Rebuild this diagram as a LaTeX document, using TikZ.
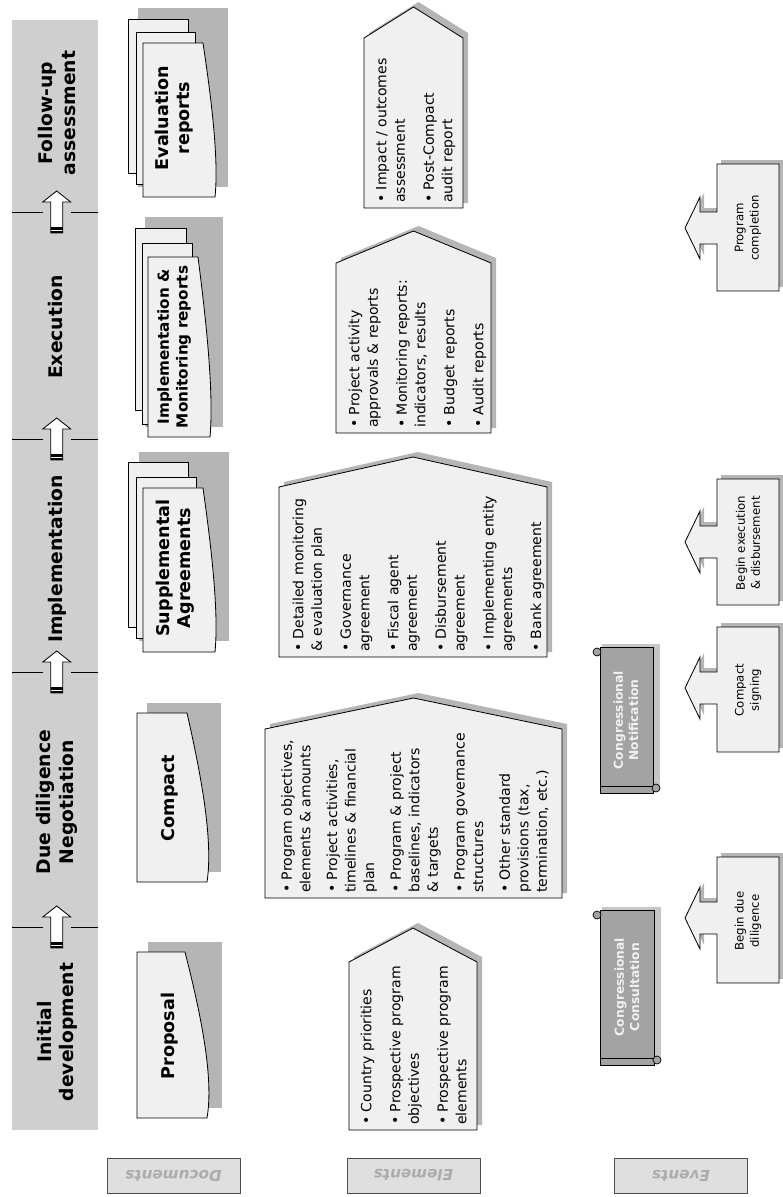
\documentclass[tikz,border=0pt]{standalone}
\usepackage{fontspec}
\setmainfont{DejaVu Sans}
\usetikzlibrary{calc}
\newcommand\docsheet[5]{(#1,#2) -- (#1+#3,#2) .. controls (#1+#3+#5*0.67,#2+#4*0.35) and (#1+#3+#5*1.33,#2+#4*0.75) .. (#1+#3+#5,#2+#4) -- (#1,#2+#4) -- cycle}
\newcommand\homeplate[5]{(#1,#5) -- (#1,#4) -- ({(#1+#2)/2},#3) -- (#2,#4) -- (#2,#5) -- cycle}
\newcommand\eventarrow[3]{(717,#1) -- (779,#1) -- (779,#2) -- (717,#2) -- (717,#3+16) -- (700,#3+16) -- (700,#3+31) -- (685,#3) -- (700,#3-31) -- (700,#3-16) -- (717,#3-16) -- cycle}
\newcommand\stagestep[1]{%
  \draw[line width=0.6pt] (12,#1) -- (43,#1) (71,#1) -- (98,#1);
  \draw[line width=0.7pt, fill=white] (56.7,#1-21) -- (70.7,#1-10) -- (62.7,#1-10) -- (62.7,#1+21) -- (50.7,#1+21) -- (50.7,#1-10) -- (42.7,#1-10) -- cycle;
  \fill (50.7,#1+15) rectangle (62.7,#1+17.5);
  \fill (50.7,#1+19) rectangle (62.7,#1+21);}
\newcommand\itm[1]{\par\hangindent=0.9em\hangafter=1\noindent\makebox[0.9em][l]{\textbullet}#1\par}
\tikzset{
  band/.style={fill=gray!38},
  sheet/.style={draw, fill=gray!12, line width=0.7pt},
  backing/.style={fill=gray!58},
  phase/.style={rotate=90, align=center, font=\bfseries\fontsize{16}{19}\selectfont},
  doclabel/.style={rotate=90, align=center, font=\bfseries\fontsize{15}{18}\selectfont},
  items/.style={rotate=90, anchor=north west, inner sep=0pt, text width=6cm, align=left,
    font=\fontsize{12}{15.8}\selectfont, execute at begin node={\setlength\parskip{9pt}}},
  event/.style={rotate=90, align=center, font=\fontsize{10}{13}\selectfont},
  scroll/.style={draw, fill=gray!72, line width=0.6pt},
  notice/.style={rotate=90, align=center, text=gray!12, font=\bfseries\fontsize{10.5}{13}\selectfont},
  rowtag/.style={draw=gray!60!black, fill=gray!25, minimum width=3.99cm, minimum height=1.05cm,
    rotate=180, text=gray!65, font=\bfseries\itshape\fontsize{13}{15}\selectfont}
}
\begin{document}
\begin{tikzpicture}[x=0.03cm, y=-0.03cm]
    \useasboundingbox (0,0) rectangle (783,1197);
    \fill[band] (12,20) rectangle (98,1130);
    \stagestep{212}
    \stagestep{439}
    \stagestep{672}
    \stagestep{927}
    \node[phase] (initial) at (57,1032) {Initial\\development};
    \node[phase] (duedil) at (57,802) {Due diligence\\Negotiation};
    \node[phase] (implement) at (57,559) {Implementation};
    \node[phase] (execute) at (56,327) {Execution};
    \node[phase] (followup) at (57,113) {Follow-up\\assessment};

    \fill[backing] (148,942) rectangle (222,1108);
    \draw[sheet] \docsheet{137}{952}{48}{166}{22};
    \node[doclabel] (proposal) at (170,1036) {Proposal};
    \fill[backing] (147,703) rectangle (221,872);
    \draw[sheet] \docsheet{137}{713}{50}{169}{20};
    \node[doclabel] (compact) at (170,798) {Compact};
    \fill[backing] (139,452) rectangle (229,641);
    \draw[sheet] (128,462) rectangle (188,627);
    \draw[sheet] (136,477) rectangle (196,638);
    \draw[sheet] \docsheet{143}{488}{60}{164}{12};
    \node[doclabel] (supplemental) at (175,568) {Supplemental\\Agreements};
    \fill[backing] (145,217) rectangle (223,427);
    \draw[sheet] (135,228) rectangle (186,410);
    \draw[sheet] (142,243) rectangle (192,424);
    \draw[sheet] \docsheet{148}{257}{50}{180}{12};
    \node[doclabel, font=\bfseries\fontsize{13}{16}\selectfont] (monitoring) at (174,347) {Implementation \&\\Monitoring reports};
    \fill[backing] (138,8) rectangle (228,187);
    \draw[sheet] (128,19) rectangle (188,173);
    \draw[sheet] (136,32) rectangle (195,184);
    \draw[sheet] \docsheet{143}{43}{60}{154}{12};
    \node[doclabel] (evaluation) at (174,118) {Evaluation\\reports};

    \fill[backing, shift={(5,-5)}] \homeplate{349}{477}{928}{962}{1130};
    \draw[sheet] \homeplate{349}{477}{928}{962}{1130};
    \node[items] (initialitems) at (342,1125) {\itm{Country priorities}\itm{Prospective program\\objectives}\itm{Prospective program\\elements}};
    \fill[backing, shift={(5,-5)}] \homeplate{265}{562}{698}{729}{898};
    \draw[sheet] \homeplate{265}{562}{698}{729}{898};
    \node[items, execute at begin node={\setlength\parskip{7pt}}] (duedilitems) at (265,893) {\itm{Program objectives,\\elements \& amounts}\itm{Project activities,\\timelines \& financial\\plan}\itm{Program \& project\\baselines, indicators\\\& targets}\itm{Program governance\\structures}\itm{Other standard\\provisions (tax,\\termination, etc.)}};
    \fill[backing, shift={(5,-5)}] \homeplate{279}{547}{457}{487}{657};
    \draw[sheet] \homeplate{279}{547}{457}{487}{657};
    \node[items] (implitems) at (274,652) {\itm{Detailed monitoring\\\& evaluation plan}\itm{Governance\\agreement}\itm{Fiscal agent\\agreement}\itm{Disbursement\\agreement}\itm{Implementing entity\\agreements}\itm{Bank agreement}};
    \fill[backing, shift={(5,-5)}] \homeplate{336}{491}{231}{263}{433};
    \draw[sheet] \homeplate{336}{491}{231}{263}{433};
    \node[items] (execitems) at (330,428) {\itm{Project activity\\approvals \& reports}\itm{Monitoring reports:\\indicators, results}\itm{Budget reports}\itm{Audit reports}};
    \fill[backing, shift={(5,-5)}] \homeplate{364}{463}{7}{38}{208};
    \draw[sheet] \homeplate{364}{463}{7}{38}{208};
    \node[items] (followitems) at (357,203) {\itm{Impact / outcomes\\assessment}\itm{Post-Compact\\audit report}};

    \fill[backing, shift={(4,-4)}] \eventarrow{857}{983}{918};
    \draw[sheet] \eventarrow{857}{983}{918};
    \node[event] (begindue) at (748,921) {Begin due\\diligence};
    \fill[backing, shift={(4,-4)}] \eventarrow{627}{752}{688};
    \draw[sheet] \eventarrow{627}{752}{688};
    \node[event] (signing) at (748,690) {Compact\\signing};
    \fill[backing, shift={(4,-4)}] \eventarrow{479}{605}{542};
    \draw[sheet] \eventarrow{479}{605}{542};
    \node[event] (beginexec) at (748,543) {Begin execution\\\& disbursement};
    \fill[backing, shift={(4,-4)}] \eventarrow{164}{291}{228};
    \draw[sheet] \eventarrow{164}{291}{228};
    \node[event] (completion) at (748,228) {Program\\completion};

    \fill[gray!45] (602,907) rectangle (661,1062);
    \draw[scroll] (600,910) rectangle (654,1065);
    \draw[scroll] (597,915) circle (4);
    \draw[scroll] (657,1060) circle (4);
    \draw[line width=0.5pt] (600,1058) -- (654,1058);
    \node[notice] (consult) at (627,987) {Congressional\\Consultation};
    \fill[gray!45] (602,644) rectangle (660,790);
    \draw[scroll] (600,647) rectangle (653,793);
    \draw[scroll] (597,652) circle (4);
    \draw[scroll] (656,788) circle (4);
    \draw[line width=0.5pt] (600,786) -- (653,786);
    \node[notice] (notify) at (626,720) {Congressional\\Notification};

    \node[rowtag] (doctag) at (173.5,1175.5) {Documents};
    \node[rowtag] (elemtag) at (413.5,1175.5) {Elements};
    \node[rowtag] (eventtag) at (681,1175.5) {Events};
\end{tikzpicture}
\end{document}
